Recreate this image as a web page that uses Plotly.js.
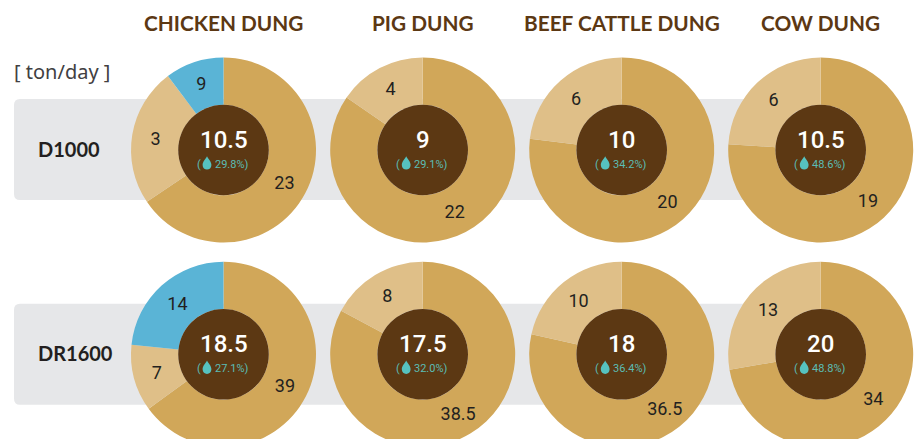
<!DOCTYPE html>
<html>
<head>
<meta charset="utf-8">
<script src="https://cdn.plot.ly/plotly-3.0.1.min.js"></script>
<style>
html,body{margin:0;padding:0;background:#fff;overflow:hidden;width:915px;height:439px}
#clip{width:915px;height:439px;overflow:hidden;position:relative}
#chart{width:915px;height:450px}
</style>
</head>
<body>
<div id="clip"><div id="chart"></div></div>
<script>
// ---- data ----
const columns = ["CHICKEN DUNG", "PIG DUNG", "BEEF CATTLE DUNG", "COW DUNG"];
const rows = ["D1000", "DR1600"];
const unitLabel = "[ ton/day ]";

// slice sizes as drawn, clockwise from 12 o'clock
const d1000Values = [[23, 8.5, 3.6], [22, 4], [20, 6], [19, 6]];
const dr1600Values = [[39, 7, 14], [38.5, 8], [36.5, 10], [34, 13]];
// the printed slice labels (chicken D1000 prints its two small slices crosswise)
const d1000Labels = [["23", "3", "9"], ["22", "4"], ["20", "6"], ["19", "6"]];
const dr1600Labels = [["39", "7", "14"], ["38.5", "8"], ["36.5", "10"], ["34", "13"]];

const d1000Totals = ["10.5", "9", "10", "10.5"];
const dr1600Totals = ["18.5", "17.5", "18", "20"];
const d1000Moisture = ["29.8%)", "29.1%)", "34.2%)", "48.6%)"];
const dr1600Moisture = ["27.1%)", "32.0%)", "36.4%)", "48.8%)"];

const sliceColors = ["#d1a759", "#dfbf88", "#5ab4d6"];

// ---- layout constants ----
const W = 915, H = 450, R = 92.5, HOLE_R = 45.3;
const colX = [223.5, 422.7, 621.7, 820.7];
const rowY = [150, 354.3];
const px = x => x / W;
const py = y => 1 - y / H;
const BROWN = "#5c3813", TEAL = "#5bbdb5", INK = "#231f20";
const NUM = "Roboto,sans-serif";
const HEAD = "Lato,sans-serif";

const allValues = [d1000Values, dr1600Values];
const allLabels = [d1000Labels, dr1600Labels];
const allTotals = [d1000Totals, dr1600Totals];
const allMoist = [d1000Moisture, dr1600Moisture];

const traces = [], annotations = [], shapes = [];

function note(text, x, y, size, color, family, anchor, weight) {
  annotations.push({
    text: text, xref: "paper", yref: "paper", x: px(x), y: py(y),
    xanchor: anchor || "center", yanchor: "middle", showarrow: false,
    font: {size: size, color: color, family: family, weight: weight || 400}
  });
}

function band(top, bottom) {
  const l = 14, r = 820, c = 6;
  const p = (x, y) => px(x) + "," + py(y);
  shapes.push({
    type: "path", xref: "paper", yref: "paper", layer: "below",
    fillcolor: "#e6e7e9", line: {width: 0},
    path: "M" + p(l + c, top) + " L" + p(r, top) + " L" + p(r, bottom) + " L" + p(l + c, bottom) +
          " Q" + p(l, bottom) + " " + p(l, bottom - c) + " L" + p(l, top + c) +
          " Q" + p(l, top) + " " + p(l + c, top) + " Z"
  });
}

function holeDisc(cx, cy) {
  shapes.push({
    type: "circle", xref: "paper", yref: "paper", layer: "above",
    x0: px(cx - HOLE_R), x1: px(cx + HOLE_R), y0: py(cy + HOLE_R), y1: py(cy - HOLE_R),
    fillcolor: BROWN, line: {width: 0}
  });
}

function drop(cx, cy) {
  const p = (x, y) => px(cx + x) + "," + py(cy + y);
  shapes.push({
    type: "path", xref: "paper", yref: "paper", layer: "above",
    fillcolor: "#56c2bf", line: {width: 0},
    path: "M" + p(0, -6.8) + " C" + p(1.6, -3.6) + " " + p(4.4, -1.4) + " " + p(4.4, 2) +
          " C" + p(4.4, 4.9) + " " + p(2.3, 6.6) + " " + p(0, 6.6) +
          " C" + p(-2.3, 6.6) + " " + p(-4.4, 4.9) + " " + p(-4.4, 2) +
          " C" + p(-4.4, -1.4) + " " + p(-1.6, -3.6) + " " + p(0, -6.8) + " Z"
  });
}

band(99, 200);
band(303.7, 404.7);

rowY.forEach((cy, r) => {
  colX.forEach((cx, c) => {
    traces.push({
      type: "pie",
      values: allValues[r][c],
      text: allLabels[r][c],
      textinfo: "text",
      textposition: "inside",
      insidetextorientation: "horizontal",
      insidetextfont: {size: 18, color: INK, family: NUM, weight: 400},
      marker: {colors: sliceColors, line: {width: 0}},
      hole: 0.49,
      sort: false,
      direction: "clockwise",
      rotation: 0,
      hoverinfo: "skip",
      showlegend: false,
      domain: {x: [px(cx - R), px(cx + R)], y: [py(cy + R), py(cy - R)]}
    });
    holeDisc(cx, cy);
    note(allTotals[r][c], cx, cy - 10.5, 24, "#ffffff", NUM, "center", 500);
    note("(", cx - 25, cy + 14, 11, TEAL, NUM);
    note(allMoist[r][c], cx + 8.5, cy + 14, 11, TEAL, NUM);
    drop(cx - 16.5, cy + 13);
  });
});

columns.forEach((t, c) => note("<b>" + t + "</b>", colX[c], 22.5, 20.8, BROWN, HEAD));
note(unitLabel, 12, 71, 20, "#414042", "'Noto Sans',sans-serif", "left");
note("<b>" + rows[0] + "</b>", 36, 149, 20, INK, HEAD, "left");
note("<b>" + rows[1] + "</b>", 36, 353, 20, INK, HEAD, "left");

Plotly.newPlot("chart", traces, {
  width: W, height: H,
  margin: {l: 0, r: 0, t: 0, b: 0, pad: 0},
  paper_bgcolor: "#ffffff",
  shapes: shapes,
  annotations: annotations,
  showlegend: false
}, {displayModeBar: false, staticPlot: true});
</script>
</body>
</html>
